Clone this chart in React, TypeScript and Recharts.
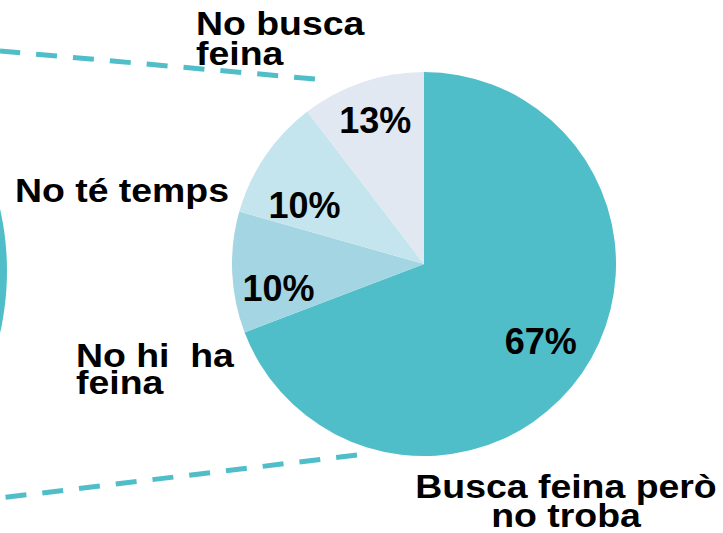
import React from 'react';
import { PieChart, Pie, Cell } from 'recharts';

// slice shares as drawn (clockwise from 12 o'clock)
const categories = ['Busca feina però no troba', 'No hi ha feina', 'No té temps', 'No busca feina'];
const shares = [69.2, 10.2, 10.2, 10.4];
const pctLabels = ['67%', '10%', '10%', '13%'];
const colors = ['#50BEC9', '#A3D5E3', '#C4E5EE', '#E1E8F2'];

// the neighbouring pie, only its edge shows at the left
const leftPie = [{ name: 'No treballa', value: 1 }];

const W = 723;
const H = 533;
const FONT = '"Liberation Sans", Arial, sans-serif';
const TEAL = '#50BEC9';

// per slice label placement (radius factor, angle nudge in degrees)
const labelRadius = [0.73, 0.768, 0.694, 0.79];
const labelNudge = [1, 7, 8, 0];

const pieData = categories.map((name, i) => ({ name, value: shares[i], label: pctLabels[i] }));

const RAD = Math.PI / 180;

const renderPct = (props: any) => {
  const { cx, cy, midAngle, outerRadius, index } = props;
  const r = outerRadius * labelRadius[index];
  const a = (midAngle + labelNudge[index]) * RAD;
  const x = cx + r * Math.cos(a);
  const y = cy - r * Math.sin(a);
  return (
    <text
      key={`pct-${index}`}
      x={x}
      y={y + 13}
      textAnchor="middle"
      fontFamily={FONT}
      fontWeight="bold"
      fontSize={36}
      fill="#000"
    >
      {pctLabels[index]}
    </text>
  );
};

// category labels, stretched a little wider like the source
const Label = ({ x, y, lines, anchor = 'start', gap = 29 }: any) => (
  <g transform={`translate(${x},${y}) scale(1.1,1)`}>
    {lines.map((l: string, i: number) => (
      <text
        key={i}
        x={0}
        y={i * gap}
        textAnchor={anchor}
        fontFamily={FONT}
        fontWeight="bold"
        fontSize={34}
        fill="#000"
        style={{ whiteSpace: 'pre' }}
      >
        {l}
      </text>
    ))}
  </g>
);

export default function App() {
  return (
    <div style={{ position: 'absolute', left: 0, top: 0, width: W, height: H, background: '#fff', overflow: 'hidden' }}>
      <PieChart width={W} height={H} margin={{ top: 0, right: 0, bottom: 0, left: 0 }}>
        <Pie
          data={leftPie}
          dataKey="value"
          cx={-273}
          cy={271}
          outerRadius={280}
          stroke="none"
          fill={TEAL}
          isAnimationActive={false}
        />
        <Pie
          data={pieData}
          dataKey="value"
          cx={424}
          cy={264}
          outerRadius={192}
          startAngle={90}
          endAngle={-270}
          stroke="none"
          label={renderPct}
          labelLine={false}
          isAnimationActive={false}
        >
          {pieData.map((d, i) => (
            <Cell key={`cell-${i}`} fill={colors[i]} />
          ))}
        </Pie>
      </PieChart>
      <svg width={W} height={H} style={{ position: 'absolute', left: 0, top: 0, pointerEvents: 'none' }}>
        {/* connector lines to the other pie */}
        <line x1={315} y1={79} x2={0} y2={51} stroke={TEAL} strokeWidth={5} strokeDasharray="21 16" />
        <line x1={357} y1={455} x2={0} y2={498} stroke={TEAL} strokeWidth={5} strokeDasharray="21 16" />

        <Label x={196} y={35} lines={['No busca', 'feina']} gap={30} />
        <Label x={15} y={202} lines={['No té temps']} />
        <Label x={76} y={367} lines={['No hi  ha', 'feina']} gap={27} />
        <Label x={566} y={498} lines={['Busca feina però', 'no troba']} anchor="middle" gap={29} />
      </svg>
    </div>
  );
}
